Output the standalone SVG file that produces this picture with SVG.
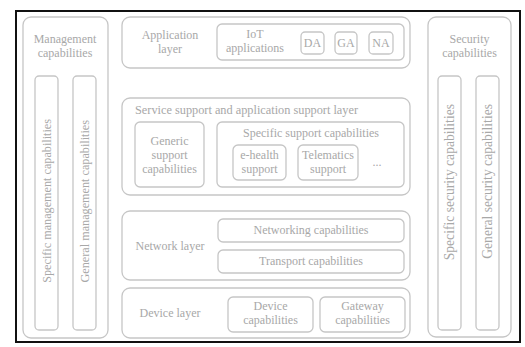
<svg xmlns="http://www.w3.org/2000/svg" width="525" height="347" viewBox="0 0 525 347" font-family="'Liberation Serif', 'Times New Roman', Tinos, 'DejaVu Serif', serif">
<style>
.b{fill:none;stroke:#c6c6c6;stroke-width:1.3}
.t{font-family:'Liberation Serif','Times New Roman',Tinos,'DejaVu Serif',serif;font-size:12px;fill:#a8a8a8;text-anchor:middle}
.l{text-anchor:start}
.e{text-anchor:end}
.s{font-size:13.6px}
</style>
<rect x="0" y="0" width="525" height="347" fill="#ffffff"/>
<rect x="16" y="11" width="504" height="331" fill="none" stroke="#111" stroke-width="2"/>
<g id="management">
<rect class="b" x="23" y="17" width="85" height="321" rx="8"/>
<text class="t" x="65" y="43">Management</text>
<text class="t" x="65" y="57">capabilities</text>
</g>
<g id="specific-management">
<rect class="b" x="35" y="76" width="23" height="254" rx="4"/>
<text class="t e" transform="translate(50.5,119) rotate(-90)" style="font-size:12.2px">Specific management capabilities</text>
</g>
<g id="general-management">
<rect class="b" x="73" y="76" width="23" height="254" rx="4"/>
<text class="t e" transform="translate(88.5,120) rotate(-90)" style="font-size:12.2px">General management capabilities</text>
</g>
<g id="application-layer">
<rect class="b" x="122" y="17" width="288" height="51" rx="8"/>
<text class="t" x="170" y="39">Application</text>
<text class="t" x="170" y="53">layer</text>
</g>
<g id="iot-applications">
<rect class="b" x="217" y="24" width="187" height="36" rx="5"/>
<text class="t" x="255" y="38">IoT</text>
<text class="t" x="255" y="52">applications</text>
</g>
<g id="da">
<rect class="b" x="301" y="32" width="23" height="22" rx="4"/>
<text class="t" x="312.5" y="47">DA</text>
</g>
<g id="ga">
<rect class="b" x="335" y="32" width="22" height="22" rx="4"/>
<text class="t" x="346" y="47">GA</text>
</g>
<g id="na">
<rect class="b" x="369" y="32" width="24" height="22" rx="4"/>
<text class="t" x="381" y="47">NA</text>
</g>
<g id="service-support-layer">
<rect class="b" x="122" y="98" width="288" height="97" rx="8"/>
<text class="t l" x="135" y="114" style="font-size:12.3px">Service support and application support layer</text>
</g>
<g id="generic-support">
<rect class="b" x="135" y="122" width="69" height="65" rx="5"/>
<text class="t" x="169.5" y="145">Generic</text>
<text class="t" x="169.5" y="159">support</text>
<text class="t" x="169.5" y="173">capabilities</text>
</g>
<g id="specific-support">
<rect class="b" x="217" y="122" width="187" height="65" rx="5"/>
<text class="t" x="311" y="137">Specific support capabilities</text>
<text class="t" x="377" y="166">...</text>
</g>
<g id="e-health">
<rect class="b" x="233" y="145" width="53" height="35" rx="5"/>
<text class="t" x="259.5" y="159">e-health</text>
<text class="t" x="259.5" y="173">support</text>
</g>
<g id="telematics">
<rect class="b" x="298" y="145" width="60" height="35" rx="5"/>
<text class="t" x="328" y="159">Telematics</text>
<text class="t" x="328" y="173">support</text>
</g>
<g id="network-layer">
<rect class="b" x="122" y="211" width="288" height="69" rx="8"/>
<text class="t" x="170" y="250">Network layer</text>
</g>
<g id="networking">
<rect class="b" x="218" y="219" width="186" height="23" rx="5"/>
<text class="t" x="311" y="234">Networking capabilities</text>
</g>
<g id="transport">
<rect class="b" x="218" y="250" width="186" height="23" rx="5"/>
<text class="t" x="311" y="265">Transport capabilities</text>
</g>
<g id="device-layer">
<rect class="b" x="122" y="288" width="288" height="50" rx="8"/>
<text class="t" x="170" y="317">Device layer</text>
</g>
<g id="device-capabilities">
<rect class="b" x="228" y="297" width="85" height="35" rx="5"/>
<text class="t" x="270.5" y="310">Device</text>
<text class="t" x="270.5" y="324">capabilities</text>
</g>
<g id="gateway-capabilities">
<rect class="b" x="320" y="297" width="85" height="35" rx="5"/>
<text class="t" x="362.5" y="310">Gateway</text>
<text class="t" x="362.5" y="324">capabilities</text>
</g>
<g id="security">
<rect class="b" x="428" y="17" width="83" height="320" rx="8"/>
<text class="t" x="469.5" y="43">Security</text>
<text class="t" x="469.5" y="57">capabilities</text>
</g>
<g id="specific-security">
<rect class="b" x="438" y="76" width="23" height="254" rx="4"/>
<text class="t e s" transform="translate(454,104) rotate(-90)">Specific security capabilities</text>
</g>
<g id="general-security">
<rect class="b" x="476" y="76" width="23" height="254" rx="4"/>
<text class="t e s" transform="translate(492,104) rotate(-90)">General security capabilities</text>
</g>
<g id="connectors"></g>
</svg>
